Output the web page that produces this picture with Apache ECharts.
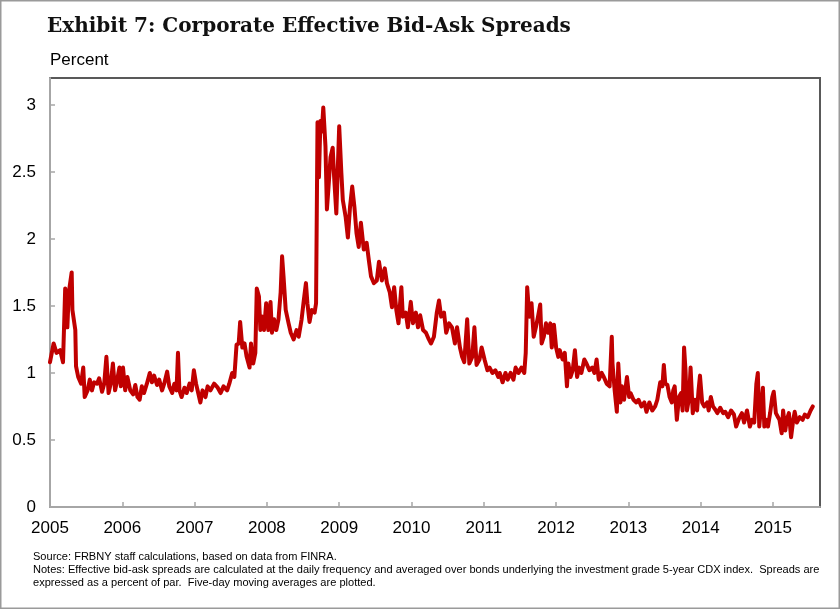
<!DOCTYPE html>
<html>
<head>
<meta charset="utf-8">
<script src="https://cdn.jsdelivr.net/npm/echarts@6/dist/echarts.min.js"></script>
<style>
html,body{margin:0;padding:0;background:#fff;}
#chart{width:840px;height:609px;}
</style>
</head>
<body>
<div id="chart"></div>
<script>
// Decimal years of the plotted observations (five-day moving averages)
var dates = [
2005.00,2005.05,2005.09,2005.14,2005.18,2005.21,2005.24,2005.26,2005.30,2005.31,2005.35,2005.36,2005.39,2005.43,2005.46,2005.48,2005.52,2005.55,2005.58,2005.61,
2005.65,2005.68,2005.72,2005.75,2005.78,2005.81,2005.84,2005.87,2005.90,2005.92,2005.96,2005.98,2006.01,2006.04,2006.07,2006.11,2006.15,2006.18,2006.21,2006.24,
2006.27,2006.30,2006.34,2006.38,2006.41,2006.44,2006.48,2006.51,2006.55,2006.58,2006.62,2006.65,2006.69,2006.72,2006.75,2006.77,2006.79,2006.82,2006.86,2006.89,
2006.93,2006.96,2006.99,2007.02,2007.05,2007.08,2007.11,2007.15,2007.18,2007.22,2007.27,2007.32,2007.36,2007.40,2007.45,2007.48,2007.52,2007.55,2007.58,2007.61,
2007.63,2007.66,2007.69,2007.72,2007.76,2007.78,2007.81,2007.84,2007.86,2007.89,2007.91,2007.94,2007.96,2007.99,2008.02,2008.05,2008.07,2008.10,2008.13,2008.16,
2008.19,2008.21,2008.23,2008.26,2008.30,2008.33,2008.37,2008.41,2008.44,2008.48,2008.51,2008.54,2008.56,2008.59,2008.62,2008.66,2008.68,2008.70,2008.72,2008.74,
2008.76,2008.78,2008.79,2008.81,2008.83,2008.85,2008.88,2008.91,2008.93,2008.96,2009.00,2009.03,2009.05,2009.09,2009.12,2009.15,2009.18,2009.21,2009.24,2009.27,
2009.30,2009.34,2009.38,2009.41,2009.44,2009.48,2009.52,2009.55,2009.59,2009.63,2009.66,2009.70,2009.73,2009.76,2009.79,2009.82,2009.86,2009.88,2009.92,2009.95,
2009.99,2010.02,2010.06,2010.09,2010.12,2010.16,2010.20,2010.24,2010.27,2010.31,2010.35,2010.38,2010.41,2010.45,2010.48,2010.52,2010.56,2010.60,2010.63,2010.67,
2010.70,2010.73,2010.77,2010.80,2010.84,2010.87,2010.90,2010.94,2010.97,2011.01,2011.05,2011.08,2011.12,2011.16,2011.20,2011.22,2011.26,2011.30,2011.33,2011.37,
2011.41,2011.44,2011.48,2011.52,2011.56,2011.58,2011.60,2011.63,2011.66,2011.69,2011.72,2011.75,2011.78,2011.80,2011.83,2011.86,2011.89,2011.92,2011.94,2011.97,
2012.00,2012.03,2012.05,2012.09,2012.12,2012.15,2012.17,2012.20,2012.23,2012.26,2012.29,2012.32,2012.35,2012.39,2012.42,2012.46,2012.50,2012.53,2012.56,2012.59,
2012.63,2012.66,2012.70,2012.74,2012.77,2012.78,2012.81,2012.84,2012.86,2012.89,2012.91,2012.94,2012.98,2013.01,2013.03,2013.07,2013.11,2013.14,2013.18,2013.22,
2013.25,2013.29,2013.33,2013.37,2013.40,2013.44,2013.47,2013.49,2013.51,2013.54,2013.57,2013.60,2013.62,2013.64,2013.67,2013.70,2013.73,2013.75,2013.77,2013.79,
2013.81,2013.84,2013.86,2013.89,2013.92,2013.95,2013.97,2013.99,2014.02,2014.05,2014.09,2014.11,2014.14,2014.17,2014.21,2014.23,2014.27,2014.31,2014.34,2014.38,
2014.42,2014.46,2014.49,2014.53,2014.57,2014.60,2014.64,2014.68,2014.71,2014.74,2014.77,2014.79,2014.81,2014.83,2014.86,2014.88,2014.91,2014.93,2014.96,2014.99,
2015.01,2015.04,2015.07,2015.09,2015.12,2015.14,2015.17,2015.19,2015.22,2015.25,2015.28,2015.30,2015.33,2015.37,2015.41,2015.44,2015.48,2015.52,2015.55
];
// Effective bid-ask spread, percent of par
var spreads = [
1.08,1.22,1.15,1.17,1.08,1.63,1.34,1.60,1.75,1.47,1.32,1.05,0.97,0.92,1.04,0.82,0.87,0.95,0.87,0.93,
0.92,0.96,0.86,0.92,1.12,0.85,0.92,1.07,0.87,0.92,1.04,0.90,1.04,0.87,0.97,0.87,0.84,0.91,0.82,0.80,
0.90,0.85,0.92,1.00,0.93,0.98,0.91,0.95,0.87,0.92,1.01,0.90,0.85,0.92,0.87,1.15,0.87,0.82,0.89,0.85,
0.92,0.87,1.02,0.92,0.85,0.78,0.87,0.82,0.90,0.87,0.92,0.89,0.85,0.90,0.87,0.92,1.00,0.97,1.21,1.22,
1.38,1.19,1.22,1.12,1.04,1.22,1.07,1.15,1.63,1.57,1.32,1.42,1.32,1.52,1.32,1.53,1.30,1.40,1.32,1.40,
1.60,1.87,1.72,1.47,1.37,1.30,1.25,1.32,1.27,1.40,1.54,1.67,1.52,1.38,1.47,1.45,1.52,2.87,2.46,2.88,
2.80,2.98,2.99,2.69,2.22,2.37,2.61,2.68,2.46,2.19,2.84,2.49,2.29,2.16,2.01,2.24,2.39,2.24,2.04,1.94,
2.12,1.92,1.97,1.84,1.72,1.67,1.69,1.83,1.69,1.78,1.67,1.60,1.49,1.64,1.47,1.37,1.64,1.42,1.45,1.34,
1.53,1.37,1.45,1.34,1.43,1.32,1.30,1.25,1.22,1.27,1.45,1.54,1.42,1.45,1.30,1.37,1.34,1.22,1.34,1.19,
1.12,1.08,1.40,1.07,1.12,1.34,1.06,1.10,1.19,1.10,1.02,1.04,1.00,1.02,0.97,1.00,0.93,1.00,0.95,1.00,
0.95,1.04,1.00,1.04,1.00,1.15,1.64,1.42,1.52,1.27,1.34,1.42,1.51,1.22,1.27,1.37,1.30,1.37,1.19,1.36,
1.19,1.12,1.17,1.10,1.15,0.90,1.07,0.97,1.02,1.17,0.97,1.04,1.00,1.10,1.07,1.02,1.04,1.00,1.10,0.95,
1.00,0.97,0.92,0.90,1.27,1.07,0.87,0.71,1.07,0.78,0.90,0.80,0.97,0.82,0.85,0.80,0.78,0.80,0.75,0.78,
0.71,0.78,0.72,0.75,0.80,0.93,0.90,1.06,0.92,0.91,0.82,0.78,0.87,0.90,0.65,0.82,0.85,0.72,1.19,1.02,
0.72,0.82,1.04,0.70,0.80,0.72,0.87,0.98,0.78,0.75,0.78,0.72,0.82,0.75,0.72,0.70,0.74,0.70,0.71,0.67,
0.72,0.69,0.60,0.66,0.70,0.63,0.72,0.60,0.65,0.63,0.92,1.00,0.60,0.72,0.89,0.60,0.65,0.60,0.70,0.82,
0.86,0.70,0.67,0.65,0.55,0.72,0.57,0.65,0.70,0.52,0.65,0.71,0.63,0.67,0.65,0.69,0.67,0.72,0.75
];
var titleText = 'Exhibit 7: Corporate Effective Bid-Ask Spreads';
var unitText = 'Percent';
var noteLines = [
  'Source: FRBNY staff calculations, based on data from FINRA.',
  'Notes: Effective bid-ask spreads are calculated at the daily frequency and averaged over bonds underlying the investment grade 5-year CDX index.  Spreads are',
  'expressed as a percent of par.  Five-day moving averages are plotted.'
];

var seriesData = dates.map(function (d, i) { return [d, spreads[i]]; });

var chart = echarts.init(document.getElementById('chart'), null, {renderer: 'canvas'});
var sans = 'Liberation Sans, Arial, sans-serif';
var axisGray = '#a6a6a6';

chart.setOption({
  backgroundColor: '#fff',
  animation: false,
  title: {
    text: titleText,
    left: 42, top: 12,
    textStyle: {fontFamily: 'DejaVu Serif, serif', fontWeight: 'bold', fontSize: 20, color: '#111'}
  },
  grid: {
    left: 50, top: 78, right: 20, bottom: 102,
    show: true, borderColor: '#595959', borderWidth: 2, backgroundColor: 'transparent'
  },
  xAxis: {
    type: 'value', min: 2005, max: 2015.65, interval: 1,
    axisLine: {show: true, lineStyle: {color: axisGray, width: 2}},
    axisTick: {show: true, inside: true, length: 5, lineStyle: {color: axisGray, width: 1.5}},
    splitLine: {show: false},
    axisLabel: {
      color: '#000', fontFamily: sans, fontSize: 17, margin: 13, showMaxLabel: false,
      formatter: function (v) { return Math.abs(v - Math.round(v)) < 1e-6 ? String(Math.round(v)) : ''; }
    }
  },
  yAxis: {
    type: 'value', min: 0, max: 3.2, interval: 0.5,
    axisLine: {show: true, lineStyle: {color: axisGray, width: 2}},
    axisTick: {show: true, inside: true, length: 5, lineStyle: {color: axisGray, width: 1.5}},
    splitLine: {show: false},
    axisLabel: {
      color: '#000', fontFamily: sans, fontSize: 17, margin: 14, showMaxLabel: false,
      formatter: function (v) { return v > 3.05 ? '' : String(v); }
    }
  },
  series: [{
    type: 'line',
    data: seriesData,
    showSymbol: false,
    symbol: 'none',
    lineStyle: {color: '#C00000', width: 4, join: 'round', cap: 'round'},
    z: 3
  }],
  graphic: [
    {type: 'rect', shape: {x: 0.75, y: 0.75, width: 838.5, height: 607.5},
     style: {fill: 'none', stroke: '#9a9a9a', lineWidth: 1.5}, silent: true},
    {type: 'text', left: 50, top: 52,
     style: {text: unitText, font: '17px ' + sans, fill: '#000'}},
    {type: 'text', left: 33, top: 550,
     style: {text: noteLines.join('\n'), font: '11.05px ' + sans, lineHeight: 13, fill: '#000'}}
  ]
});
</script>
</body>
</html>
